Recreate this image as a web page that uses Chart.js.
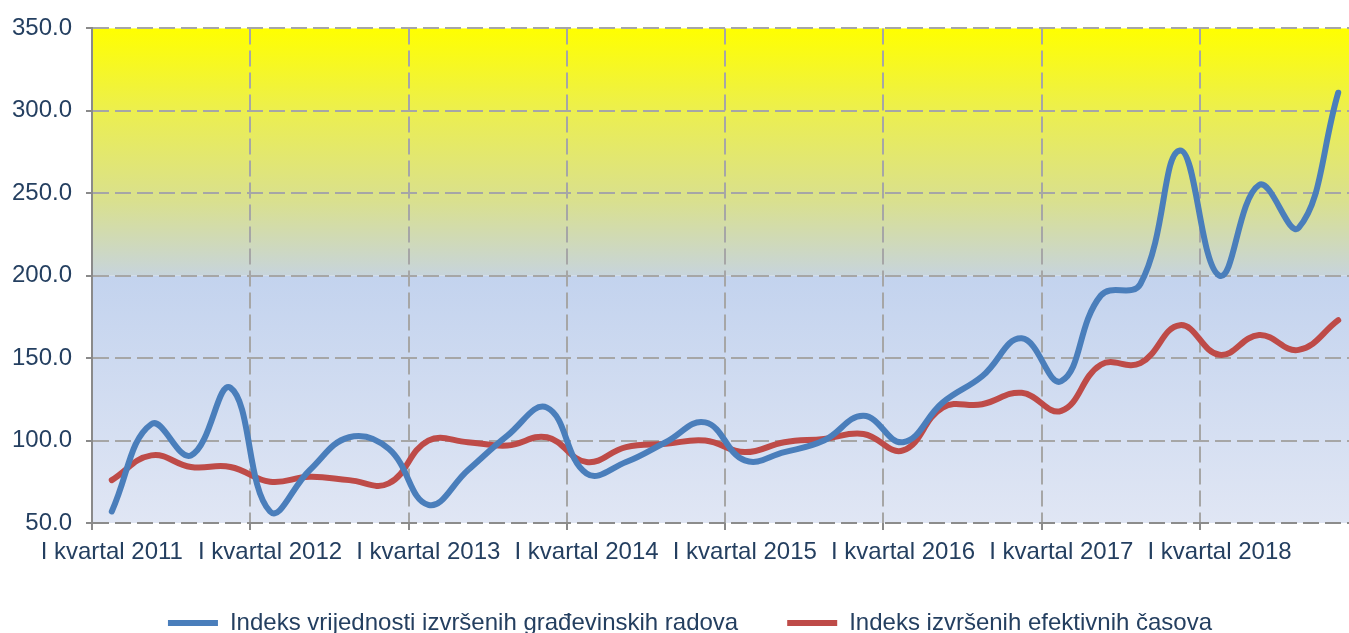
<!DOCTYPE html>
<html>
<head>
<meta charset="utf-8">
<script src="https://cdn.jsdelivr.net/npm/chart.js@4/dist/chart.umd.min.js"></script>
<style>
  html, body { margin: 0; padding: 0; overflow: hidden; background: #ffffff; }
  #wrap { width: 1380px; height: 645px; }
</style>
</head>
<body>
<div id="wrap"><canvas id="c" width="1380" height="645"></canvas></div>
<script>
// ---- data ----
const quarters = ['I', 'II', 'III', 'IV'];
const years = [2011, 2012, 2013, 2014, 2015, 2016, 2017, 2018];
const categories = years.flatMap(y => quarters.map(q => q + ' kvartal ' + y));

const seriesNames = [
  'Indeks vrijednosti izvršenih građevinskih radova',
  'Indeks izvršenih efektivnih časova'
];
const valuesGradjevinski = [
  57, 110, 91, 132,
  57, 82, 102, 95,
  61, 82, 103, 120,
  80, 87, 99, 111,
  88, 93, 100, 115,
  99, 123, 139, 162,
  136, 188, 195, 276,
  200, 255, 229, 311
];
const valuesCasovi = [
  76, 91, 84, 84,
  75, 78, 76, 74,
  100, 99, 97, 102,
  87, 96, 98, 100,
  93, 99, 101, 104,
  94, 120, 122, 129,
  118, 146, 147, 170,
  152, 164, 155, 173
];
const yTicks = [50, 100, 150, 200, 250, 300, 350];

// ---- styles ----
const FONT = '"Liberation Sans", Arial, sans-serif';
const TEXT = '#243F60';
const GRID = '#a6a6a6';
const AXIS = '#8a8a8a';

const bgPlugin = {
  id: 'bgGradient',
  beforeDraw(chart) {
    const { ctx, chartArea, scales } = chart;
    if (!chartArea) return;
    const { left, right, top, bottom } = chartArea;
    const split = scales.y.getPixelForValue(200);
    ctx.save();
    const g1 = ctx.createLinearGradient(0, top, 0, split);
    g1.addColorStop(0, '#ffff00');
    g1.addColorStop(0.35, '#ebee52');
    g1.addColorStop(0.7, '#d9e08f');
    g1.addColorStop(1, '#c7d4dc');
    ctx.fillStyle = g1;
    ctx.fillRect(left, top, right - left, split - top);
    const g2 = ctx.createLinearGradient(0, split, 0, bottom);
    g2.addColorStop(0, '#c3d3ee');
    g2.addColorStop(1, '#e0e6f4');
    ctx.fillStyle = g2;
    ctx.fillRect(left, split, right - left, bottom - split);
    ctx.restore();
  }
};

const legendShift = {
  id: 'legendShift',
  afterLayout(chart) {
    if (chart.legend) { chart.legend.left += 11; chart.legend.right += 11; }
  }
};

new Chart(document.getElementById('c'), {
  type: 'line',
  data: {
    labels: categories,
    datasets: [
      {
        label: seriesNames[0],
        data: valuesGradjevinski,
        borderColor: '#4a7ebb',
        backgroundColor: '#4a7ebb',
        borderWidth: 6,
        borderCapStyle: 'round',
        pointRadius: 0,
        tension: 0.42,
        fill: false
      },
      {
        label: seriesNames[1],
        data: valuesCasovi,
        borderColor: '#be4b48',
        backgroundColor: '#be4b48',
        borderWidth: 6,
        borderCapStyle: 'round',
        pointRadius: 0,
        tension: 0.42,
        fill: false
      }
    ]
  },
  options: {
    responsive: false,
    animation: false,
    layout: { padding: { top: 27, right: 22, bottom: 0, left: 0 } },
    plugins: {
      legend: {
        position: 'bottom',
        labels: {
          usePointStyle: true,
          pointStyle: 'line',
          pointStyleWidth: 50,
          padding: 49,
          color: TEXT,
          font: { family: FONT, size: 24 }
        }
      },
      tooltip: { enabled: false }
    },
    scales: {
      x: {
        type: 'category',
        offset: true,
        grid: {
          offset: true,
          color: c => (c.index % 4 === 0 ? GRID : 'rgba(0,0,0,0)'),
          lineWidth: 2,
          tickLength: 7,
          tickColor: c => (c.index % 4 === 0 ? AXIS : 'rgba(0,0,0,0)'),
          tickWidth: 2
        },
        border: { display: false, dash: [16, 6] },
        ticks: {
          autoSkip: false,
          maxRotation: 0,
          minRotation: 0,
          padding: 8,
          color: TEXT,
          font: { family: FONT, size: 24 },
          callback: function (value) {
            const lab = this.getLabelForValue(value);
            return lab.startsWith('I kvartal') ? lab : '';
          }
        },
        afterFit: s => { s.height = 39; }
      },
      y: {
        min: yTicks[0],
        max: yTicks[yTicks.length - 1],
        afterBuildTicks: s => { s.ticks = yTicks.map(v => ({ value: v })); },
        grid: {
          color: c => (c.tick && c.tick.value === yTicks[0] ? '#8c8c8c' : GRID),
          lineWidth: 2,
          tickLength: 6,
          tickColor: AXIS,
          tickWidth: 2
        },
        border: { display: true, color: AXIS, width: 2, dash: [16, 6] },
        ticks: {
          padding: 14,
          color: TEXT,
          font: { family: FONT, size: 24 },
          callback: v => Number(v).toFixed(1)
        },
        afterFit: s => { s.width = 92; }
      }
    }
  },
  plugins: [bgPlugin, legendShift]
});
</script>
</body>
</html>
